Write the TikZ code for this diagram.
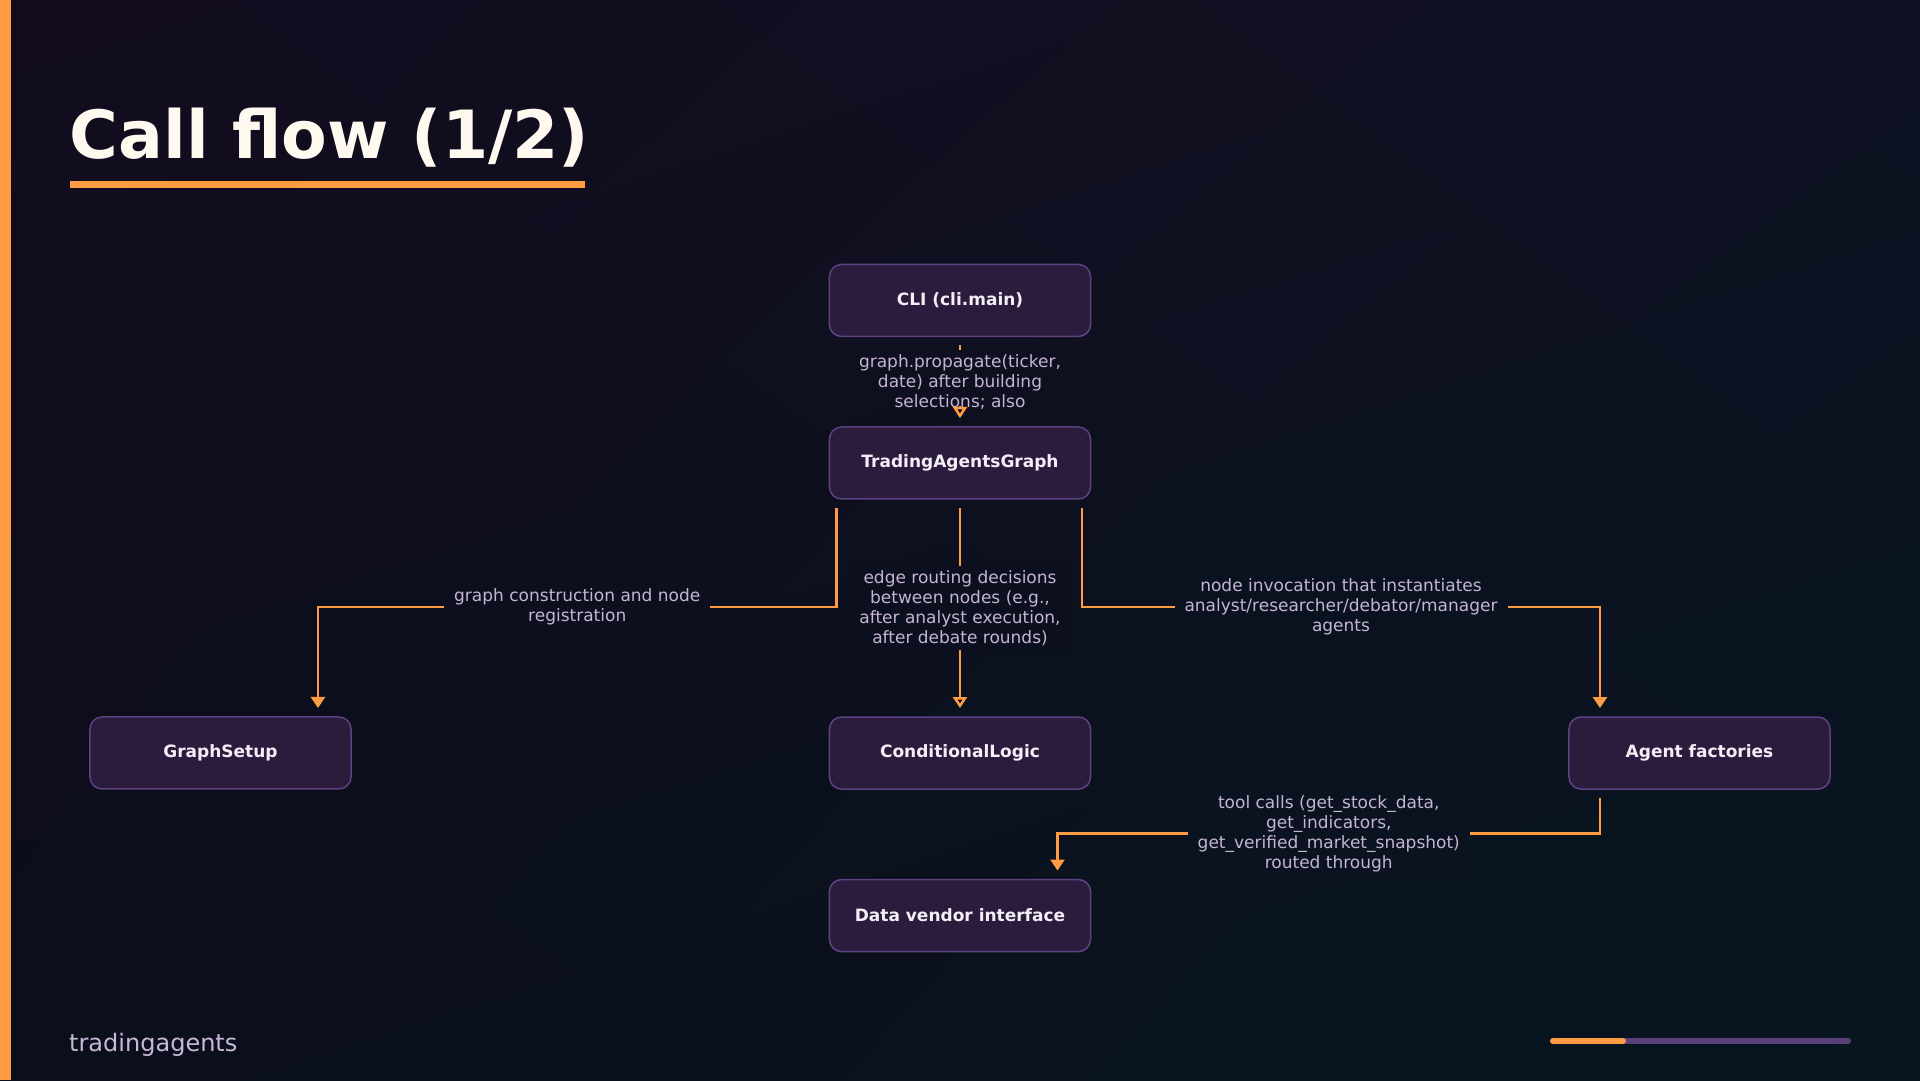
\documentclass[tikz,border=0pt]{standalone}
\usepackage{fontspec}
\setmainfont{DejaVu Sans}
\usetikzlibrary{matrix,arrows.meta,shadings}

\definecolor{accent}{HTML}{FF9B42}
\definecolor{boxfill}{HTML}{2B1B3D}
\definecolor{boxline}{HTML}{5C4280}
\definecolor{boxtext}{HTML}{F4EEF6}
\definecolor{muted}{HTML}{C4B5D0}
\definecolor{titletext}{HTML}{FFF9F0}
\definecolor{footertext}{HTML}{C8B8D8}
\definecolor{track}{HTML}{5A3F7A}
\definecolor{bgTL}{HTML}{120B1E}
\definecolor{bgTR}{HTML}{0E1122}
\definecolor{bgBL}{HTML}{0B0E1B}
\definecolor{bgBR}{HTML}{07161F}
\definecolor{bgtop}{HTML}{0E0F1F}
\definecolor{bgleft}{HTML}{0D0F1E}
\definecolor{bgmid}{HTML}{0C101E}
\definecolor{bgright}{HTML}{0B121F}
\definecolor{bglow}{HTML}{0A131F}

\begin{document}
\begin{tikzpicture}[x=1pt,y=-1pt,
	box/.style={draw=boxline, line width=1.5pt, fill=boxfill, rounded corners=12pt, minimum width=261pt, minimum height=72pt, inner sep=0pt, outer sep=0pt, text=boxtext, font=\fontsize{17}{20}\selectfont\bfseries},
	flow/.style={draw=accent, line width=2.5pt, -{Triangle[width=14pt,length=11pt]}, shorten <=9pt, shorten >=9pt},
	lbl/.style={fill=#1, text=muted, font=\fontsize{17}{20}\selectfont, align=center, inner xsep=10pt, inner ysep=4pt},
	lbl/.default=bgmid]
\useasboundingbox (0,0) rectangle (1920,1080);
\shade[upper left=bgTL, upper right=bgTR, lower left=bgBL, lower right=bgBR] (0,0) rectangle (1920,1080);
\fill[accent] (0,0) rectangle (11,1080);

\node[anchor=base west, inner sep=0pt, text=titletext, font=\fontsize{66.5}{80}\selectfont\bfseries] (title) at (69.5,158) {Call flow (1/2)};
\fill[accent] (70,181) rectangle (585,188);

\matrix (m) [matrix of nodes, nodes={box}, row sep=89pt, column sep=477pt] at (960,608)
{
	& CLI (cli.main) & \\
	& TradingAgentsGraph & \\[127.5pt]
	GraphSetup & ConditionalLogic & Agent factories \\
	& Data vendor interface & \\
};
\path[flow]
(m-1-2) edge node [lbl=bgtop] {graph.propagate(ticker,\\date) after building\\selections; also} (m-2-2)
(m-2-2) edge node [lbl] {edge routing decisions\\between nodes (e.g.,\\after analyst execution,\\after debate rounds)} (m-3-2)
;
\path[flow, shorten <=70pt] (m-1-2) edge (m-2-2);
\draw[flow] ([xshift=7pt]m-2-2.south west) -- ++(0,108) -| node [lbl=bgleft, pos=.25] {graph construction and node\\registration} ([xshift=-33pt]m-3-1.north east);
\draw[flow] ([xshift=-8.5pt]m-2-2.south east) -- ++(0,108) -| node [lbl=bgright, pos=.25] {node invocation that instantiates\\analyst/researcher/debator/manager\\agents} ([xshift=31pt]m-3-3.north west);
\draw[flow] ([xshift=31pt]m-3-3.south west) -- ++(0,44.5) -| node [lbl=bglow, pos=.25] {tool calls (get\_stock\_data,\\get\_indicators,\\get\_verified\_market\_snapshot)\\routed through} ([xshift=-33pt]m-4-2.north east);

\node[anchor=base west, inner sep=0pt, text=footertext, font=\fontsize{24}{29}\selectfont] (brand) at (69,1051) {tradingagents};
\draw[track, line width=6pt, line cap=round] (1553,1041) -- (1848,1041);
\draw[accent, line width=6pt, line cap=round] (1553,1041) -- (1623,1041);
\end{tikzpicture}
\end{document}
